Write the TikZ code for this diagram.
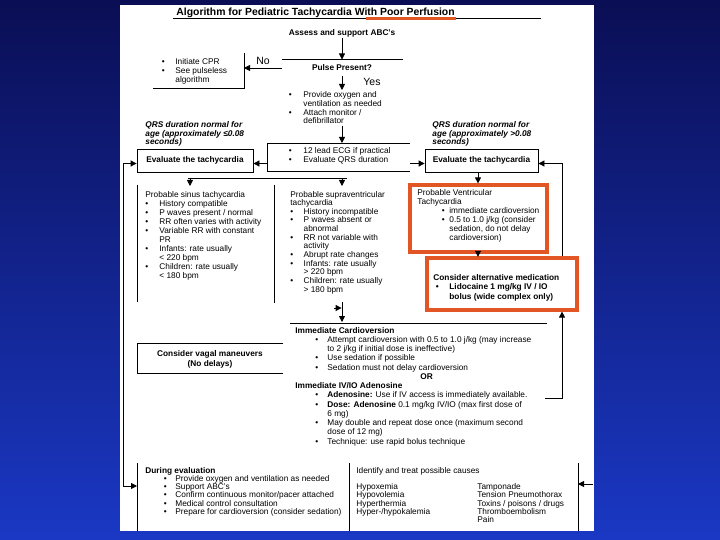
\documentclass[tikz,border=0pt]{standalone}
\usepackage{fontspec}
\setmainfont{Liberation Sans}
\usepackage{xcolor}
\usetikzlibrary{arrows.meta}

\definecolor{hilite}{RGB}{226,86,38}
\definecolor{slidetop}{RGB}{10,14,84}
\definecolor{slidebot}{RGB}{26,56,196}

\newcommand{\fs}[1]{\fontsize{8.3}{#1}\selectfont}
\newcommand{\bl}{\textbullet}
\newcommand{\blist}[2]{\begin{tabular}[t]{@{}p{#1}@{}l@{}}#2\end{tabular}}
\newcommand{\rows}[1]{\begin{tabular}[t]{@{}l@{}}#1\end{tabular}}
\newcommand{\crows}[1]{\begin{tabular}[t]{@{}c@{}}#1\end{tabular}}
\newcommand{\wide}[1]{\multicolumn{2}{@{}l@{}}{#1}}

\begin{document}
\begin{tikzpicture}[x=1pt, y=-1pt, line width=0.8pt,
    >={Triangle[length=6pt,width=6pt]},
    txt/.style={inner sep=0pt, anchor=base west},
    mid/.style={inner sep=0pt, anchor=base, font=\bfseries\fs{9}},
    big/.style={inner sep=0pt, anchor=base, font=\fontsize{10.5}{12}\selectfont},
    evalbox/.style={draw, inner sep=0pt, minimum height=23pt, font=\bfseries\fs{9}},
    hot/.style={draw=hilite, line width=3.2pt, fill=white}]

  % Slide
  \useasboundingbox (0,0) rectangle (720,540);
  \shade[top color=slidetop, bottom color=slidebot] (0,0) rectangle (720,540);
  \fill[white] (120,5) rectangle (594,531);

  % Title
  \node[txt, font=\bfseries\fontsize{10.4}{12}\selectfont] (title) at (176,16)
    {Algorithm for Pediatric Tachycardia With Poor Perfusion};
  \draw (173,18.5) -- (541,18.5);
  \draw[hilite, line width=2.6pt] (366,18.5) -- (456,18.5);

  % Pulse check
  \node[mid] (abc) at (342,36) {Assess and support ABC's};
  \coordinate (pulseIn) at (342,59.5);
  \draw (282,59.5) -- (403,59.5);
  \draw[->] (abc) -- (pulseIn);
  \node[mid] (pulse) at (342,71) {Pulse Present?};

  \node[big] (no) at (263,65) {No};
  \coordinate (noOut) at (282,68);
  \coordinate (cprIn) at (244,68);
  \draw[->] (noOut) -- (cprIn);
  \draw (244,53) -- (244,88.5) -- (153,88.5);
  \node[txt, font=\fs{8.8}] (cpr) at (161.5,64.5)
    {\blist{13.5pt}{\bl & Initiate CPR\\ \bl & See pulseless\\ & algorithm}};

  \node[big] (yes) at (372,86) {Yes};
  \coordinate (yesOut) at (342,76);
  \coordinate (o2In) at (342,90);
  \draw[->] (yesOut) -- (o2In);
  \node[txt, font=\fs{8.3}] (o2) at (288.5,98)
    {\blist{14.5pt}{\bl & Provide oxygen and\\ & ventilation as needed\\
     \bl & Attach monitor /\\ & defibrillator}};
  \coordinate (o2Out) at (342,126);
  \coordinate (ecgIn) at (342,143);
  \draw[->] (o2Out) -- (ecgIn);

  % ECG box
  \draw (410,143) -- (267,143) -- (267,171) -- (410,171);
  \node[txt, font=\fs{9}] (ecg) at (288.5,153.5)
    {\blist{14.5pt}{\bl & 12 lead ECG if practical\\ \bl & Evaluate QRS duration}};
  \coordinate (ecgL) at (267,163.5);
  \coordinate (ecgR) at (410,163.5);

  % Evaluate the tachycardia
  \node[txt, font=\bfseries\itshape\fs{8.4}] (qrsL) at (145,127.5)
    {\rows{QRS duration normal for\\ age (approximately ≤0.08\\ seconds)}};
  \node[txt, font=\bfseries\itshape\fs{8.4}] (qrsR) at (432,127.5)
    {\rows{QRS duration normal for\\ age (approximately >0.08\\ seconds)}};
  \node[evalbox, minimum width=116pt] (evalL) at (195,160.5) {Evaluate the tachycardia};
  \node[evalbox, minimum width=113pt] (evalR) at (481.5,160.5) {Evaluate the tachycardia};
  \draw[->] (ecgL) -- (evalL.east |- ecgL);
  \draw[->] (ecgR) -- (evalR.west |- ecgR);

  % Narrow QRS
  \coordinate (splitA) at (190,178);
  \coordinate (splitB) at (342,178);
  \coordinate (sinIn) at (190,186);
  \coordinate (svtIn) at (342,186);
  \draw (188,178) -- (347,178);
  \draw[->] (splitA) -- (sinIn);
  \draw[->] (splitB) -- (svtIn);
  \draw (137,185) -- (137,302);
  \draw (274,185) -- (274,303);
  \node[txt, font=\fs{9.1}] (sinus) at (145,197)
    {\blist{14pt}{\wide{Probable sinus tachycardia}\\
     \bl & History compatible\\ \bl & P waves present / normal\\
     \bl & RR often varies with activity\\ \bl & Variable RR with constant\\ & PR\\
     \bl & Infants: rate usually\\ & < 220 bpm\\
     \bl & Children: rate usually\\ & < 180 bpm}};
  \node[txt, font=\fs{8.65}] (svt) at (290,197)
    {\blist{13.3pt}{\wide{Probable supraventricular}\\ \wide{tachycardia}\\
     \bl & History incompatible\\ \bl & P waves absent or\\ & abnormal\\
     \bl & RR not variable with\\ & activity\\ \bl & Abrupt rate changes\\
     \bl & Infants: rate usually\\ & > 220 bpm\\
     \bl & Children: rate usually\\ & > 180 bpm}};

  \coordinate (svtOut) at (342,302);
  \coordinate (cvIn) at (342,322);
  \draw[->] (svtOut) -- (cvIn);
  \coordinate (joinFrom) at (334,308);
  \coordinate (joinTo) at (341.6,308);
  \draw[->] (joinFrom) -- (joinTo);

  % Vagal maneuvers
  \draw (283,343) -- (137,343) -- (137,373) -- (283,373);
  \node[inner sep=0pt, anchor=base, font=\bfseries\fs{10}] (vagal) at (210,356)
    {\crows{Consider vagal maneuvers\\ (No delays)}};

  % Cardioversion / adenosine
  \draw (290,323.5) -- (547,323.5);
  \node[txt, font=\fs{9.25}] (cv) at (295,333)
    {\blist{32pt}{\wide{\bfseries Immediate Cardioversion}\\
     \hspace*{20pt}\bl & Attempt cardioversion with 0.5 to 1.0 j/kg (may increase\\
     & to 2 j/kg if initial dose is ineffective)\\
     \hspace*{20pt}\bl & Use sedation if possible\\
     \hspace*{20pt}\bl & Sedation must not delay cardioversion\\
     \wide{\hspace*{125pt}\bfseries OR}\\
     \wide{\bfseries Immediate IV/IO Adenosine}\\
     \hspace*{20pt}\bl & \textbf{Adenosine:} Use if IV access is immediately available.\\
     \hspace*{20pt}\bl & \textbf{Dose: Adenosine} 0.1 mg/kg IV/IO (max first dose of\\
     & 6 mg)\\
     \hspace*{20pt}\bl & May double and repeat dose once (maximum second\\
     & dose of 12 mg)\\
     \hspace*{20pt}\bl & Technique: use rapid bolus technique}};

  % Wide QRS
  \coordinate (cvOut) at (545,398);
  \coordinate (lidoIn) at (562,311.6);
  \draw[->] (cvOut) -| (lidoIn);
  \coordinate (lidoTop) at (562,258);
  \draw[->] (lidoTop) |- (evalR.east |- ecgR);

  \draw[hot] (410,185) rectangle (547,252);
  \node[txt, font=\fs{9}] (vt) at (417,196)
    {\blist{32pt}{\wide{Probable Ventricular}\\ \wide{Tachycardia}\\
     \hspace*{24.5pt}\bl & immediate cardioversion\\
     \hspace*{24.5pt}\bl & 0.5 to 1.0 j/kg (consider\\ & sedation, do not delay\\
     & cardioversion)}};
  \draw[hot] (427,258) rectangle (577,310);
  \node[txt, font=\bfseries\fs{9.7}] (lido) at (433,280)
    {\blist{16pt}{\wide{Consider alternative medication}\\
     \hspace*{2.5pt}\bl & Lidocaine 1 mg/kg IV / IO\\ & bolus (wide complex only)}};

  \coordinate (vtIn) at (478,183.4);
  \draw[->] (evalR.south -| vtIn) -- (vtIn);
  \coordinate (vtOut) at (478,251);
  \coordinate (lidoArr) at (478,256.8);
  \draw[->] (vtOut) -- (lidoArr);

  % During evaluation
  \draw (137,463) -- (137,531);
  \draw (349,463) -- (349,531);
  \draw (578,463) -- (578,531);
  \node[txt, font=\fs{7.8}] (during) at (145,473)
    {\blist{30pt}{\wide{\bfseries During evaluation}\\
     \hspace*{18.5pt}\bl & Provide oxygen and ventilation as needed\\
     \hspace*{18.5pt}\bl & Support ABC's\\
     \hspace*{18.5pt}\bl & Confirm continuous monitor/pacer attached\\
     \hspace*{18.5pt}\bl & Medical control consultation\\
     \hspace*{18.5pt}\bl & Prepare for cardioversion (consider sedation)}};
  \coordinate (durIn) at (137,486);
  \coordinate (loopCorner) at (123,486);
  \draw[<->] (evalL.west |- ecgL) -| (loopCorner) -- (durIn);

  \node[txt, font=\fs{8}] (causes) at (356,473.5) {Identify and treat possible causes};
  \node[txt, font=\fs{7.75}] (causeA) at (356,489.5)
    {\rows{Hypoxemia\\ Hypovolemia\\ Hyperthermia\\ Hyper-/hypokalemia}};
  \node[txt, font=\fs{7.75}] (causeB) at (477,489.5)
    {\rows{Tamponade\\ Tension Pneumothorax\\ Toxins / poisons / drugs\\ Thromboembolism\\ Pain}};
  \coordinate (causeIn) at (578,484);
  \coordinate (causeFrom) at (593,484);
  \draw[->] (causeFrom) -- (causeIn);
\end{tikzpicture}
\end{document}
